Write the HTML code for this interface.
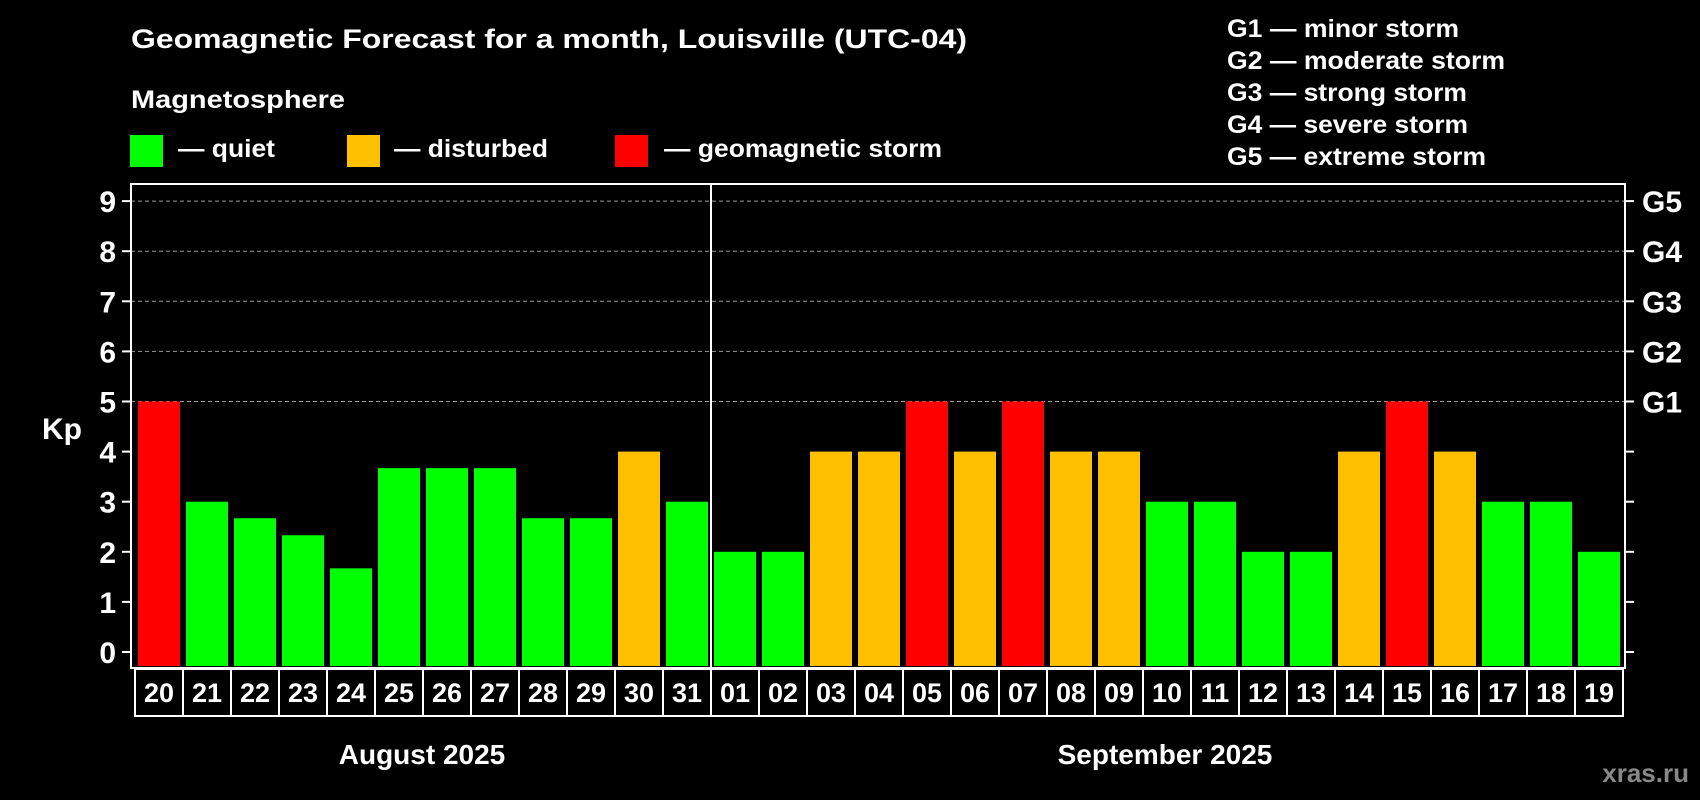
<!DOCTYPE html>
<html><head><meta charset="utf-8"><style>
html,body{margin:0;padding:0;background:#000;}
svg{display:block;font-family:"Liberation Sans",Arial,sans-serif;font-weight:bold;}
</style></head><body>
<svg id="chart" width="1700" height="800" viewBox="0 0 1700 800">
<rect width="1700" height="800" fill="#000"/>
<text x="131" y="48" fill="#fff" font-size="27" textLength="836" lengthAdjust="spacingAndGlyphs">Geomagnetic Forecast for a month, Louisville (UTC-04)</text>
<text x="131" y="108" fill="#fff" font-size="25" textLength="214" lengthAdjust="spacingAndGlyphs">Magnetosphere</text>
<g><rect x="130" y="135" width="33" height="32" fill="#00ff00"/><text x="178" y="157" fill="#fff" font-size="25" textLength="97" lengthAdjust="spacingAndGlyphs">— quiet</text></g>
<g><rect x="347" y="135" width="33" height="32" fill="#ffc000"/><text x="394" y="157" fill="#fff" font-size="25" textLength="154" lengthAdjust="spacingAndGlyphs">— disturbed</text></g>
<g><rect x="615" y="135" width="33" height="32" fill="#ff0000"/><text x="664" y="157" fill="#fff" font-size="25" textLength="278" lengthAdjust="spacingAndGlyphs">— geomagnetic storm</text></g>
<g fill="#fff" font-size="25">
<text x="1227" y="37" textLength="232" lengthAdjust="spacingAndGlyphs">G1 — minor storm</text>
<text x="1227" y="69" textLength="278" lengthAdjust="spacingAndGlyphs">G2 — moderate storm</text>
<text x="1227" y="101" textLength="240" lengthAdjust="spacingAndGlyphs">G3 — strong storm</text>
<text x="1227" y="133" textLength="241" lengthAdjust="spacingAndGlyphs">G4 — severe storm</text>
<text x="1227" y="165" textLength="259" lengthAdjust="spacingAndGlyphs">G5 — extreme storm</text>
</g>
<text x="42" y="439" fill="#fff" font-size="30">Kp</text>
<g id="grid"></g><g id="bars"></g><g id="axes"></g>
<text x="422" y="764" fill="#fff" font-size="28" text-anchor="middle">August 2025</text>
<text x="1165" y="764" fill="#fff" font-size="28" text-anchor="middle">September 2025</text>
<text x="1689" y="782" fill="#888" font-size="26" text-anchor="end">xras.ru</text>
</svg>
<script>
const days = ["20","21","22","23","24","25","26","27","28","29","30","31","01","02","03","04","05","06","07","08","09","10","11","12","13","14","15","16","17","18","19"];
const kpValues = [5,3,2.67,2.33,1.67,3.67,3.67,3.67,2.67,2.67,4,3,2,2,4,4,5,4,5,4,4,3,3,2,2,4,5,4,3,3,2];
const yTicks = [0,1,2,3,4,5,6,7,8,9];
const gLabels = ["G1","G2","G3","G4","G5"];
const gLevels = [5,6,7,8,9];
const NS="http://www.w3.org/2000/svg";
const L=131,R=1625,T=184,B=668,X0=135,STEP=48;
const y=v=>652-v*50.1;
const x=i=>X0+i*STEP;
function mk(tag,attrs,parent){const e=document.createElementNS(NS,tag);for(const k in attrs)e.setAttribute(k,attrs[k]);parent.appendChild(e);return e;}
function color(v){return v>=5?"#ff0000":(v>=4?"#ffc000":"#00ff00");}
const grid=document.getElementById("grid"),bars=document.getElementById("bars"),axes=document.getElementById("axes");
yTicks.forEach(t=>{
  if(t>=5){const g=mk("line",{x1:L,x2:R,y1:y(t),y2:y(t),stroke:"#999","stroke-width":1,"stroke-dasharray":"4,3"},grid);
  
  }
  const tk=mk("line",{x1:122,x2:L,y1:y(t),y2:y(t),stroke:"#fff","stroke-width":2},axes);
  
  
  const tr=mk("line",{x1:R,x2:1634,y1:y(t),y2:y(t),stroke:"#fff","stroke-width":2},axes);
  
  
  const lb=mk("text",{x:116,y:y(t)+11,fill:"#fff","font-size":30,"text-anchor":"end"},axes);
  lb.textContent=t;
  
  
});
gLabels.forEach((g,i)=>{
  const lb=mk("text",{x:1642,y:y(gLevels[i])+11,fill:"#fff","font-size":30},axes);
  lb.textContent=g;
  
  
});
kpValues.forEach((v,i)=>{
  const b=mk("rect",{x:x(i)+3,y:y(v),width:42,height:B-2-y(v),fill:color(v)},bars);
  
  
  const c=mk("rect",{x:x(i),y:B+1,width:STEP,height:47,fill:"none",stroke:"#fff","stroke-width":2},axes);
  
  
  const t=mk("text",{x:x(i)+STEP/2,y:B+34,fill:"#fff","font-size":27,"text-anchor":"middle"},axes);
  t.textContent=days[i];
  
  
});
const box=mk("rect",{x:L,y:T,width:R-L,height:B-T,fill:"none",stroke:"#fff","stroke-width":2},axes);


const div=mk("line",{x1:x(12),x2:x(12),y1:T,y2:B,stroke:"#fff","stroke-width":2},axes);


</script>
</body></html>
